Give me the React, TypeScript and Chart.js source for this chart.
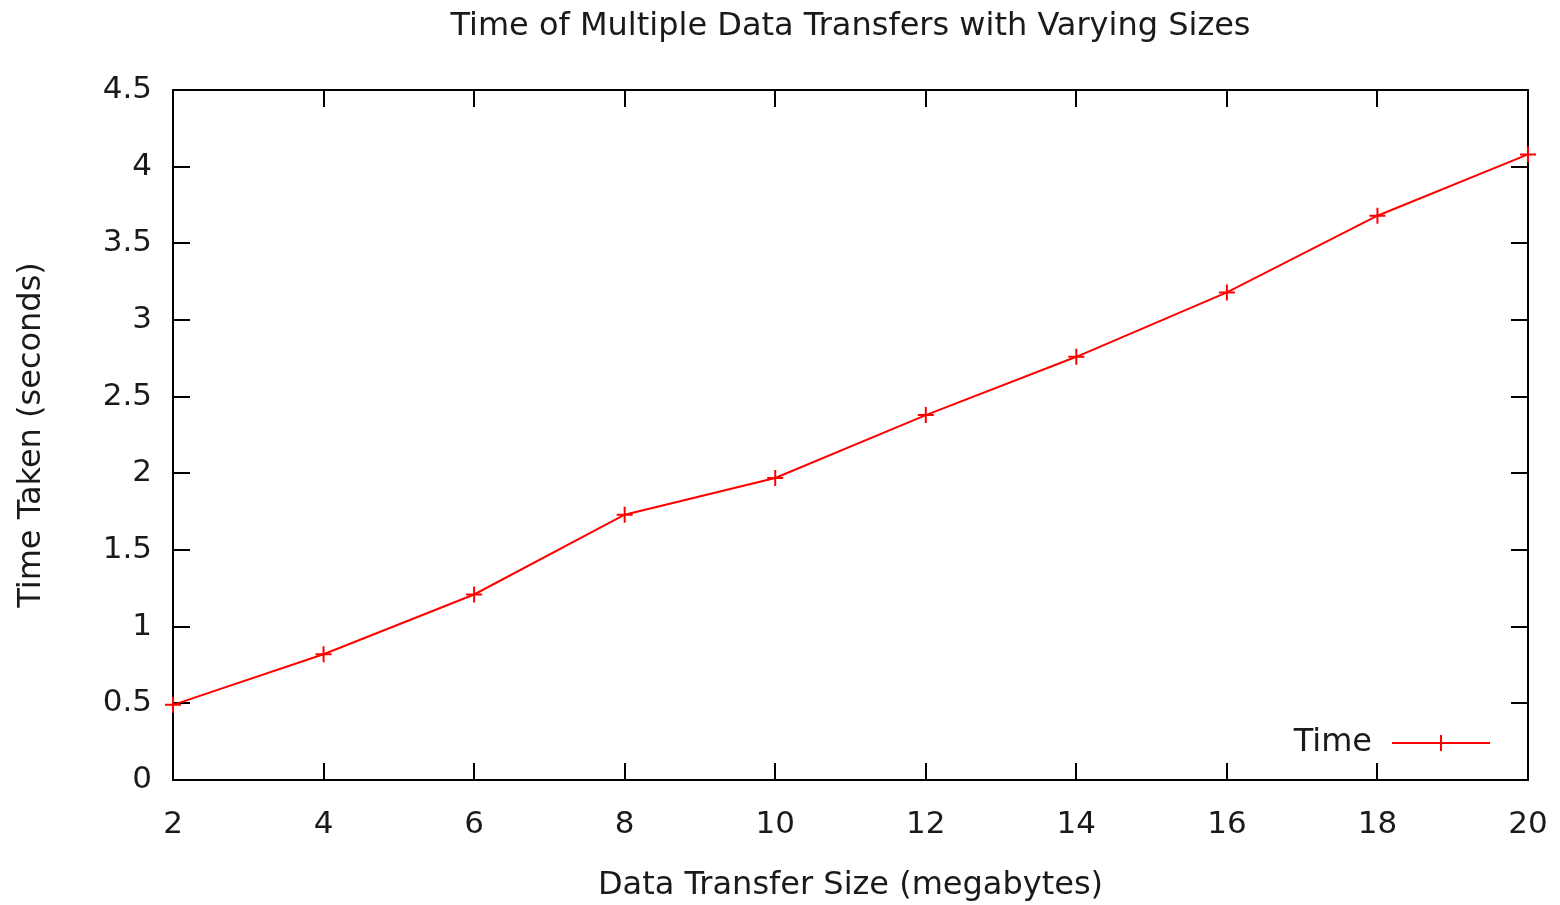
import React, { useEffect, useRef } from "react";
import { Chart, registerables } from "chart.js";

Chart.register(...registerables);

const sizes: number[] = [2, 4, 6, 8, 10, 12, 14, 16, 18, 20];
const times: number[] = [0.49, 0.82, 1.21, 1.73, 1.97, 2.38, 2.76, 3.18, 3.68, 4.08];
const seriesName = "Time";
const chartTitle = "Time of Multiple Data Transfers with Varying Sizes";
const xTitle = "Data Transfer Size (megabytes)";
const yTitle = "Time Taken (seconds)";

const FONT = "'DejaVu Sans', sans-serif";
const RED = "#ff0000";
const TEXT = "#1a1a1a";

const framePlugin = {
  id: "gnuplotFrame",
  afterLayout(chart: any) {
    const tb = chart.titleBlock;
    if (tb) {
      tb.left = chart.chartArea.left;
      tb.right = chart.chartArea.right;
      tb.width = chart.chartArea.right - chart.chartArea.left;
    }
  },
  beforeDatasetsDraw(chart: any) {
    const { ctx, chartArea } = chart;
    const { left, right, top, bottom } = chartArea;
    const xs = chart.scales.x;
    const ys = chart.scales.y;
    const len = 17;
    ctx.save();
    ctx.strokeStyle = "#000";
    ctx.lineWidth = 2;
    ctx.beginPath();
    ctx.rect(left, top, right - left, bottom - top);
    ctx.stroke();
    ctx.beginPath();
    xs.ticks.forEach((t: any) => {
      const px = Math.round(xs.getPixelForValue(t.value));
      ctx.moveTo(px, bottom);
      ctx.lineTo(px, bottom - len);
      ctx.moveTo(px, top);
      ctx.lineTo(px, top + len);
    });
    ys.ticks.forEach((t: any) => {
      const py = Math.round(ys.getPixelForValue(t.value));
      ctx.moveTo(left, py);
      ctx.lineTo(left + len, py);
      ctx.moveTo(right, py);
      ctx.lineTo(right - len, py);
    });
    ctx.stroke();
    ctx.restore();
  },
  afterDatasetsDraw(chart: any) {
    const { ctx, chartArea } = chart;
    const { right, bottom } = chartArea;
    const yc = bottom - 37;
    const lineEnd = right - 38;
    const lineStart = lineEnd - 98;
    ctx.save();
    ctx.font = `32px ${FONT}`;
    ctx.fillStyle = TEXT;
    ctx.textAlign = "right";
    ctx.textBaseline = "middle";
    ctx.fillText(seriesName, lineStart - 20, yc);
    ctx.strokeStyle = RED;
    ctx.lineWidth = 2;
    ctx.beginPath();
    ctx.moveTo(lineStart, yc);
    ctx.lineTo(lineEnd, yc);
    const mx = (lineStart + lineEnd) / 2;
    ctx.moveTo(mx, yc - 8);
    ctx.lineTo(mx, yc + 8);
    ctx.stroke();
    ctx.restore();
  },
};

export default function App() {
  const ref = useRef<HTMLCanvasElement | null>(null);
  useEffect(() => {
    if (!ref.current) return;
    const chart = new Chart(ref.current, {
      type: "line",
      data: {
        datasets: [
          {
            label: seriesName,
            data: sizes.map((x, i) => ({ x, y: times[i] })),
            borderColor: RED,
            backgroundColor: RED,
            borderWidth: 2,
            pointStyle: "cross",
            pointRadius: 8,
            pointBorderWidth: 2,
            pointBorderColor: RED,
            tension: 0,
            clip: false as any,
          },
        ],
      },
      options: {
        responsive: false,
        animation: false,
        layout: { padding: { left: 0, right: 32, top: 0, bottom: 0 } },
        plugins: {
          legend: { display: false },
          tooltip: { enabled: false },
          title: {
            display: true,
            text: chartTitle,
            color: TEXT,
            font: { family: FONT, size: 32, weight: "normal" },
            padding: { top: 7.5, bottom: 44.1 },
          },
        },
        scales: {
          x: {
            type: "linear",
            min: 2,
            max: 20,
            border: { display: false },
            grid: { display: false, drawTicks: false, tickLength: 0 },
            ticks: {
              stepSize: 2,
              padding: 26,
              color: TEXT,
              font: { family: FONT, size: 31 },
              maxRotation: 0,
              callback: (v: any) => String(v),
            },
            title: {
              display: true,
              text: xTitle,
              color: TEXT,
              font: { family: FONT, size: 32 },
              padding: { top: 0, bottom: 0 },
            },
            afterFit: (s: any) => {
              s.height = 125;
              s.paddingLeft = 0;
              s.paddingRight = 0;
            },
          },
          y: {
            type: "linear",
            min: 0,
            max: 4.5,
            border: { display: false },
            grid: { display: false, drawTicks: false, tickLength: 0 },
            ticks: {
              stepSize: 0.5,
              padding: 21,
              color: TEXT,
              font: { family: FONT, size: 31 },
              callback: (v: any) => String(v),
            },
            title: {
              display: true,
              text: yTitle,
              color: TEXT,
              font: { family: FONT, size: 32 },
              padding: { top: 12, bottom: 0 },
            },
            afterFit: (s: any) => {
              s.width = 173;
              s.paddingTop = 0;
              s.paddingBottom = 0;
            },
          },
        },
      },
      plugins: [framePlugin],
    });
    return () => chart.destroy();
  }, []);
  return (
    <div style={{ position: "absolute", left: 0, top: 0, width: 1560, height: 905, background: "#fff" }}>
      <canvas ref={ref} width={1560} height={905} style={{ display: "block" }} />
    </div>
  );
}
